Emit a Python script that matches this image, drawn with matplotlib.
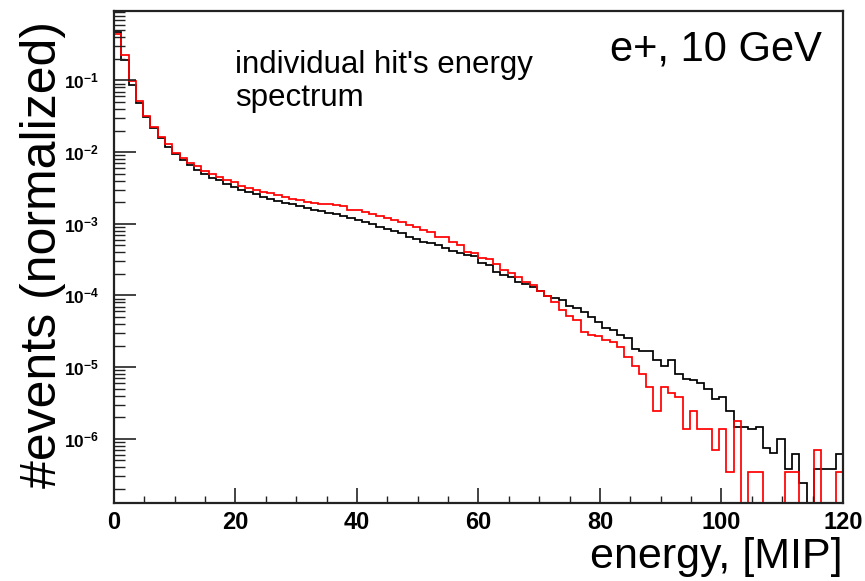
import numpy as np
import matplotlib
matplotlib.use("Agg")
import matplotlib.pyplot as plt
from matplotlib.ticker import MultipleLocator, LogLocator, FuncFormatter, NullFormatter, FixedLocator

# ---------------- data ----------------
bin_edges = np.linspace(0, 120, 101)  # 100 bins of 1.2 MIP

red_values = [
    0.44, 0.225, 0.098, 0.052, 0.0318, 0.0221, 0.0163, 0.0128, 0.0098, 0.0084,
    0.0071, 0.0064, 0.0055, 0.0049, 0.0045, 0.0041, 0.00377, 0.00336, 0.00311, 0.00295,
    0.00274, 0.00265, 0.00251, 0.00233, 0.00223, 0.00214, 0.00203, 0.00196, 0.00190, 0.00186,
    0.00182, 0.00178, 0.00158, 0.00155, 0.00147, 0.00136, 0.00128, 0.00121, 0.00113, 0.00105,
    0.00096, 0.00089, 0.00082, 0.00076, 0.00065, 0.00065, 0.00056, 0.000504, 0.000410, 0.000394,
    0.000329, 0.000318, 0.000271, 0.000226, 0.000203, 0.000179, 0.000155, 0.000140, 0.000116, 0.0000981,
    0.0000817, 0.0000625, 0.0000516, 0.0000454, 0.0000312, 0.0000281, 0.0000272, 0.0000239, 0.0000226, 0.0000192,
    0.0000137, 0.0000104, 0.00000794, 0.00000533, 0.00000244, 0.00000523, 0.00000431, 0.00000387, 0.00000137, 0.00000244,
    0.00000137, 0.00000137, 7.0e-7, 1.37e-6, 3.4e-7, 1.77e-6, 0.0, 3.4e-7, 3.4e-7, 0.0,
    0.0, 0.0, 3.4e-7, 3.4e-7, 0.0, 0.0, 7.0e-7, 0.0, 0.0, 3.4e-7,
]

black_values = [
    0.47, 0.19, 0.086, 0.048, 0.031, 0.0214, 0.0157, 0.0119, 0.0093, 0.0077,
    0.0066, 0.0056, 0.0049, 0.00438, 0.0041, 0.00356, 0.00328, 0.00295, 0.00279, 0.00257,
    0.00238, 0.00221, 0.00209, 0.00196, 0.00186, 0.00177, 0.00167, 0.00155, 0.00150, 0.00142,
    0.00135, 0.00128, 0.00119, 0.00113, 0.00107, 0.00098, 0.00091, 0.00084, 0.00079, 0.000734,
    0.00066, 0.000612, 0.00056, 0.000532, 0.000504, 0.000454, 0.00042, 0.000386, 0.000362, 0.00036,
    0.00028, 0.000266, 0.000214, 0.000192, 0.000179, 0.000155, 0.000143, 0.000132, 0.000116, 0.000098,
    0.0000929, 0.0000863, 0.0000711, 0.0000661, 0.000058, 0.0000505, 0.0000421, 0.0000348, 0.0000329, 0.0000281,
    0.0000252, 0.0000177, 0.0000169, 0.0000169, 0.0000126, 0.0000104, 0.0000126, 0.00000801, 0.00000683, 0.0000066,
    0.00000594, 0.0000049, 0.00000359, 0.00000379, 2.44e-6, 1.48e-6, 1.48e-6, 1.37e-6, 1.48e-6, 7.36e-7,
    6.27e-7, 9.8e-7, 3.75e-7, 6.13e-7, 2.44e-7, 0.0, 3.75e-7, 3.75e-7, 3.75e-7, 6.13e-7,
]

x_ticks = [0, 20, 40, 60, 80, 100, 120]
y_tick_exponents = [-6, -5, -4, -3, -2, -1]

# ---------------- style ----------------
plt.rcParams['font.family'] = ['Liberation Sans', 'DejaVu Sans']
plt.rcParams['mathtext.fontset'] = 'custom'
plt.rcParams['mathtext.rm'] = 'Liberation Sans'
plt.rcParams['mathtext.bf'] = 'Liberation Sans:bold'
plt.rcParams['mathtext.it'] = 'Liberation Sans:italic'

fig = plt.figure(figsize=(8.65, 5.81), dpi=100)
ax = fig.add_axes([114/865, 1 - 503/581, (843 - 114)/865, (503 - 11)/581])

tiny = 1e-20
blk = np.where(np.array(black_values) > 0, black_values, tiny)
red = np.where(np.array(red_values) > 0, red_values, tiny)

ax.stairs(blk, bin_edges, baseline=None, color='black', linewidth=1.25)
ax.stairs(red, bin_edges, baseline=None, color='#ff0000', linewidth=1.25)

ax.set_yscale('log')
ax.set_xlim(0, 120)
ax.set_ylim(1.27e-7, 0.93)

for s in ax.spines.values():
    s.set_linewidth(1.6)
    s.set_color('#222222')

ax.xaxis.set_major_locator(FixedLocator(x_ticks))
ax.xaxis.set_minor_locator(MultipleLocator(5))
ax.yaxis.set_major_locator(FixedLocator([10.0**e for e in y_tick_exponents]))
ax.yaxis.set_minor_locator(LogLocator(base=10, subs=np.arange(2, 10), numticks=100))
ax.yaxis.set_minor_formatter(NullFormatter())
ax.yaxis.set_major_formatter(FuncFormatter(lambda v, p: r'$\mathbf{10^{%d}}$' % int(round(np.log10(v)))))
ax.xaxis.set_major_formatter(FuncFormatter(lambda v, p: '%d' % v))

ax.tick_params(axis='x', which='major', direction='in', length=11, width=1.2, color='#222222',
               labelsize=17, pad=6, top=False)
ax.tick_params(axis='x', which='minor', direction='in', length=5, width=1.0, color='#222222', top=False)
ax.tick_params(axis='y', which='major', direction='in', length=16, width=1.2, color='#222222',
               labelsize=12.5, pad=11, right=False)
ax.tick_params(axis='y', which='minor', direction='in', length=8, width=1.0, color='#222222', right=False)
for lab in ax.get_xticklabels():
    lab.set_fontweight('bold')

ax.text((235 - 114)/729, (503 - 73)/492, "individual hit's energy", transform=ax.transAxes,
        fontsize=22.5, ha='left', va='baseline')
ax.text((235 - 114)/729, (503 - 106)/492, "spectrum", transform=ax.transAxes,
        fontsize=22.5, ha='left', va='baseline')
ax.text((822 - 114)/729, (503 - 61)/492, "e+, 10 GeV", transform=ax.transAxes,
        fontsize=30, ha='right', va='baseline')

fig.text(843/865, 1 - 568/581, "energy, [MIP]", fontsize=31, ha='right', va='baseline')
fig.text(43/865, 1 - 255/581, "#events (normalized)", fontsize=36, rotation=90,
         ha='center', va='center')

fig.savefig("out.png", dpi=100)
